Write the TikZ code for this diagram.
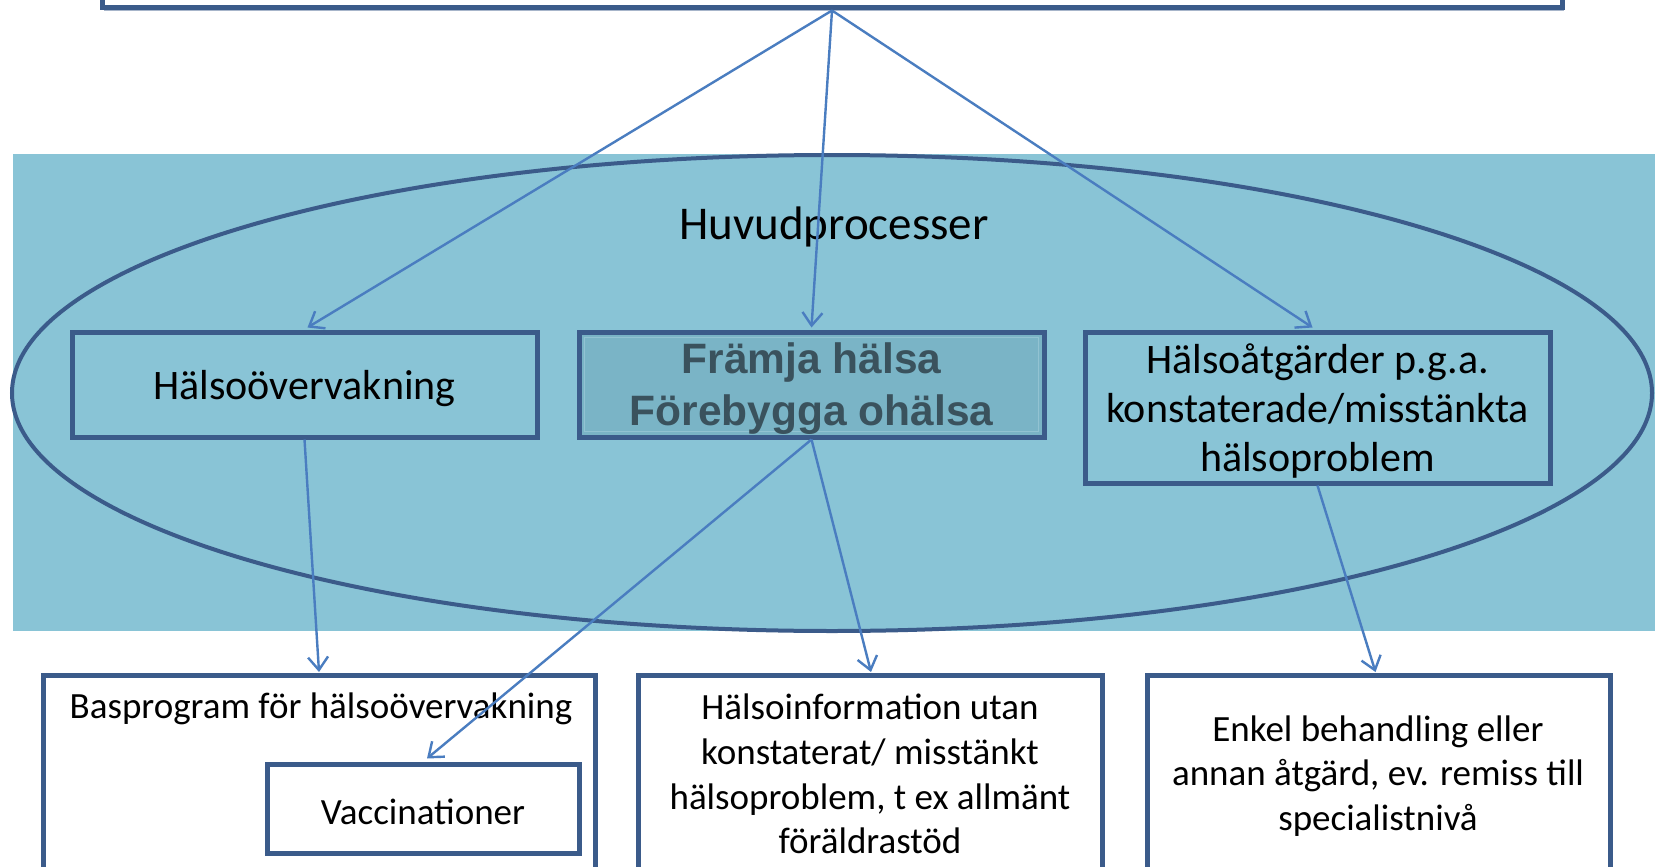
\documentclass[tikz,border=0pt]{standalone}
\usepackage{fontspec}
\setmainfont{Carlito}
\newfontfamily\headsans{Liberation Sans}
\usetikzlibrary{arrows.meta,calc}

\definecolor{panelblue}{HTML}{89C4D6}
\definecolor{boxedge}{HTML}{3B5B8A}
\definecolor{linkblue}{HTML}{4A7DC0}
\definecolor{keyfill}{HTML}{7AB4C6}
\definecolor{keyinner}{HTML}{92C3D2}
\definecolor{keytext}{HTML}{3A525D}

\begin{document}
\begin{tikzpicture}[x=1pt,y=-1pt,
  frame/.style={rectangle, draw=boxedge, line width=5pt, inner sep=0pt, align=center},
  lowbox/.style={frame, fill=white, anchor=north},
  lowtext/.style={align=center, font=\fontsize{37}{44.6}\selectfont, inner sep=0pt},
  midtext/.style={font=\fontsize{42}{48.6}\selectfont},
  link/.style={draw=linkblue, line width=2.4pt,
    -{Straight Barb[length=13pt,width=20pt,line width=2.4pt]}}]

\useasboundingbox (0,0) rectangle (1655,867);
\clip (0,0) rectangle (1655,867);
\fill[white] (0,0) rectangle (1655,867);

% process panel with the ellipse
\fill[panelblue] (13,154) rectangle (1660,631);
\draw[boxedge, line width=4pt] (832,393) ellipse [x radius=820, y radius=238];
\node[font=\fontsize{47}{54}\selectfont] (huvud) at (834,227) {Huvudprocesser};

% top box (continues above)
\fill[boxedge!45] (104,-40) rectangle (1564,11);
\node[frame, fill=white, minimum width=1460pt, minimum height=58pt] (top) at (832,-21) {};
\coordinate (apex) at (top.south);

% main processes
\node[frame, minimum width=465pt, minimum height=105pt] (b1) at (304.5,384.5) {};
\node[midtext] (b1t) at (304.5,389) {Hälsoövervakning};
\node[frame, fill=keyfill, minimum width=465pt, minimum height=105pt] (b2) at (811.5,384.5) {};
\draw[keyinner, line width=1.5pt] ($(b2.north west)+(8,8)$) rectangle ($(b2.south east)+(-8,-8)$);
\node[font=\headsans\bfseries\fontsize{42.5}{52}\selectfont, text=keytext, align=center] (b2t) at (811.5,389) {Främja hälsa\\Förebygga ohälsa};
\node[frame, minimum width=465pt, minimum height=151pt] (b3) at (1317.5,407.5) {};
\node[midtext, align=center] (b3t) at (1317.5,411) {Hälsoåtgärder p.g.a.\\konstaterade/misstänkta\\hälsoproblem};

% lower boxes (continue below)
\node[lowbox, minimum width=552pt, minimum height=240pt] (b4) at (319,673) {};
\node[lowbox, minimum width=464pt, minimum height=240pt] (b5) at (870,673) {};
\node[lowbox, minimum width=463pt, minimum height=240pt] (b6) at (1378.5,673) {};
\node[frame, fill=white, minimum width=312pt, minimum height=89pt] (vacc) at (423,808.5) {};
\node[font=\fontsize{37}{44}\selectfont] (vacct) at (423,812) {Vaccinationer};

\node[lowtext] (b4t) at (321,709) {Basprogram för hälsoövervakning};
\node[lowtext] (b5t) at (870,774) {Hälsoinformation utan\\konstaterat/ misstänkt\\hälsoproblem, t ex allmänt\\föräldrastöd};
\node[lowtext] (b6t) at (1378,776) {Enkel behandling eller\\annan åtgärd, ev. remiss till\\specialistnivå};

% connectors
\draw[link] (apex) -- ($(b1.north)+(3,-2)$);
\draw[link] (apex) -- ($(b2.north)+(0,-2)$);
\draw[link] (apex) -- ($(b3.north)+(-5,-2)$);
\draw[link] (b1.south) -- ($(b4.north)+(0,-1)$);
\draw[link] (b2.south) -- ($(b5.north)+(1,-1)$);
\draw[link] (b2.south) -- ($(vacc.north)+(4,-3)$);
\draw[link] (b3.south) -- ($(b6.north)+(-3,-1)$);
\end{tikzpicture}
\end{document}
